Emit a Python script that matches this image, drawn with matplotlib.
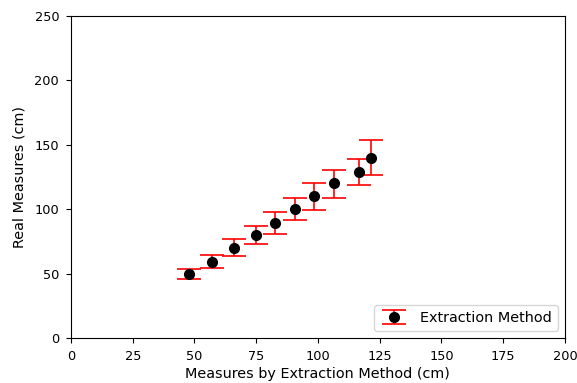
import numpy as np
import matplotlib.pyplot as plt

# values
extraction = [47.9, 57.0, 66.0, 74.9, 82.7, 90.8, 98.5, 106.4, 116.7, 121.4]
real = [50, 59, 70, 80, 89, 100, 110, 120, 129, 140]
yerr_low = [4.5, 4.5, 6.2, 6.8, 8.2, 8.7, 10.3, 11.0, 9.9, 13.4]
yerr_high = [3.5, 5.5, 6.6, 6.6, 9.2, 8.8, 10.3, 10.5, 10.3, 13.4]

fig = plt.figure(figsize=(5.77, 3.83), dpi=100)
ax = fig.add_axes([0.123, 0.1175, 0.856, 0.8405])

ax.errorbar(extraction, real, yerr=[yerr_low, yerr_high], fmt='o', color='black',
            ecolor='red', markersize=7, capsize=8.5, elinewidth=1.2, capthick=1.2,
            label='Extraction Method')

ax.set_xlim(0, 200)
ax.set_ylim(0, 250)
ax.set_xticks(np.arange(0, 201, 25))
ax.set_yticks(np.arange(0, 251, 50))
ax.tick_params(labelsize=9.3, pad=5)
ax.set_xlabel('Measures by Extraction Method (cm)', fontsize=10.4, labelpad=3)
ax.set_ylabel('Real Measures (cm)', fontsize=10.4, labelpad=6)
ax.legend(loc='lower right', fontsize=10.4)

fig.savefig('out.png', dpi=100)
